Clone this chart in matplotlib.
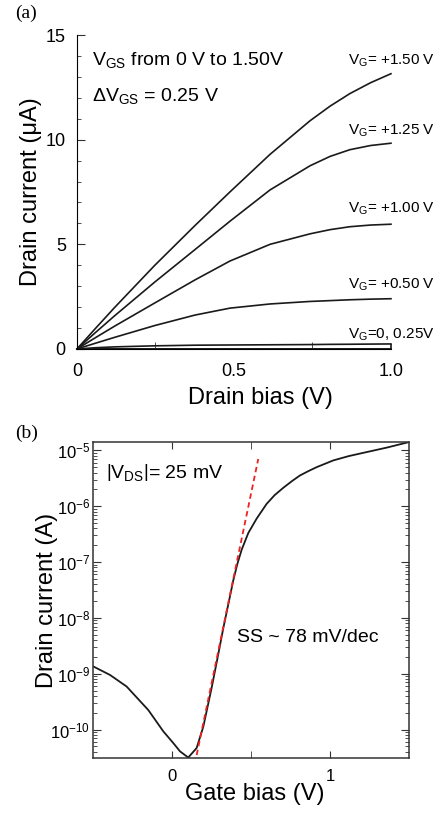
import numpy as np
import matplotlib
matplotlib.use("Agg")
from matplotlib import pyplot as plt
from matplotlib.ticker import MultipleLocator, FixedLocator, LogLocator, NullFormatter

plt.rcParams['font.family'] = ['Liberation Sans', 'DejaVu Sans']
plt.rcParams['mathtext.fontset'] = 'custom'
plt.rcParams['mathtext.rm'] = 'Liberation Sans'
plt.rcParams['mathtext.it'] = 'Liberation Sans:italic'
plt.rcParams['mathtext.bf'] = 'Liberation Sans:bold'

# ---- panel (a): output curves, drain current in uA vs drain bias in V
drain_v = [0.0, 0.06, 0.121, 0.248, 0.376, 0.487, 0.615, 0.742, 0.806, 0.869, 0.935, 1.0]
id_vg150 = [0.0, 1.00, 2.00, 4.00, 5.90, 7.50, 9.30, 10.90, 11.60, 12.20, 12.72, 13.15]
id_vg125 = [0.0, 0.80, 1.60, 3.20, 4.75, 6.10, 7.60, 8.75, 9.20, 9.52, 9.72, 9.83]
id_vg100 = [0.0, 0.55, 1.10, 2.20, 3.30, 4.20, 5.00, 5.50, 5.70, 5.84, 5.92, 5.96]
id_vg050 = [0.0, 0.28, 0.56, 1.12, 1.62, 1.95, 2.15, 2.27, 2.31, 2.35, 2.38, 2.40]
id_vg025 = [0.0, 0.06, 0.10, 0.15, 0.18, 0.19, 0.20, 0.21, 0.22, 0.225, 0.233, 0.24]
id_vg000 = [0.0, 0.005, 0.005, 0.005, 0.005, 0.005, 0.005, 0.005, 0.005, 0.005, 0.005, 0.005]
curve_labels = ["V$_\\mathrm{G}$= +1.50 V", "V$_\\mathrm{G}$= +1.25 V",
                "V$_\\mathrm{G}$= +1.00 V", "V$_\\mathrm{G}$= +0.50 V",
                "V$_\\mathrm{G}$=0, 0.25V"]
label_y = [13.75, 10.4, 6.7, 3.05, 0.7]

# ---- panel (b): transfer curve, drain current in A vs gate bias in V
gate_v = [-0.498, -0.392, -0.287, -0.150, -0.055, 0.008, 0.051, 0.103, 0.156,
          0.198, 0.251, 0.293, 0.325, 0.357, 0.388, 0.414, 0.441, 0.483,
          0.536, 0.599, 0.650, 0.705, 0.760, 0.810, 0.865, 0.916, 1.021,
          1.120, 1.232, 1.360, 1.502]
id_gate = [1.35e-9, 9.5e-10, 5.9e-10, 2.24e-10, 9.3e-11, 5.75e-11, 4.07e-11, 3.16e-11, 4.68e-11,
           1.12e-10, 5.6e-10, 2.24e-9, 6.6e-9, 1.78e-8, 4.7e-8, 9.3e-8, 1.66e-7, 3.31e-7,
           6.0e-7, 1.10e-6, 1.58e-6, 2.14e-6, 2.82e-6, 3.55e-6, 4.27e-6, 5.0e-6, 6.6e-6,
           7.9e-6, 9.3e-6, 1.12e-5, 1.41e-5]
ss_fit_v = [0.156, 0.546]
ss_fit_i = [3.5e-11, 7.0e-6]

fig = plt.figure(figsize=(4.46, 8.14), dpi=100)

# panel (a)
ax1 = fig.add_axes([0.1726, 0.5713, 0.704, 0.3857])
for ys in [id_vg150, id_vg125, id_vg100, id_vg050, id_vg025, id_vg000]:
    ax1.plot(drain_v, ys, color='#1a1a1a', lw=1.2, clip_on=False)
# the low-bias pair closes at the right end
ax1.vlines(drain_v[-1], id_vg000[-1], id_vg025[-1], color='#1a1a1a', lw=1.2, clip_on=False)
ax1.set_xlim(0, 1.0)
ax1.set_ylim(0, 15)
ax1.spines['top'].set_visible(False)
ax1.spines['right'].set_visible(False)
ax1.xaxis.set_major_locator(FixedLocator([0, 0.5, 1.0]))
ax1.xaxis.set_minor_locator(FixedLocator([0.25, 0.75]))
ax1.set_xticklabels(['0', '0.5', '1.0'])
ax1.yaxis.set_major_locator(FixedLocator([0, 5, 10, 15]))
ax1.yaxis.set_minor_locator(MultipleLocator(1))
ax1.set_yticklabels(['0', '5', '10', '15'])
ax1.tick_params(which='both', direction='in', labelsize=13, color='#333333')
ax1.tick_params(axis='x', which='major', length=0, pad=10)
ax1.tick_params(axis='x', which='minor', length=5)
ax1.tick_params(axis='y', which='major', length=6, pad=8)
ax1.tick_params(axis='y', which='minor', length=3)
ax1.set_xlabel("Drain bias (V)", fontsize=17)
ax1.set_ylabel("Drain current (\u03bcA)", fontsize=17)
ax1.xaxis.set_label_coords(0.583, -0.12)
ax1.yaxis.set_label_coords(-0.11, 0.5)
for lab, yy in zip(curve_labels, label_y):
    ax1.text(1.14, yy, lab, fontsize=11, ha='right', va='center', clip_on=False)
ax1.text(0.048, 13.8, "V$_\\mathrm{GS}$ from 0 V to 1.50V", fontsize=14, va='center')
ax1.text(0.048, 12.1, "\u0394V$_\\mathrm{GS}$ = 0.25 V", fontsize=14, va='center')
fig.text(0.034, 0.984, "(a)", fontsize=14, family='Liberation Serif', va='center')

# panel (b)
ax2 = fig.add_axes([0.2085, 0.0688, 0.7085, 0.388])
ax2.semilogy(gate_v, id_gate, color='#1a1a1a', lw=1.3)
ax2.semilogy(ss_fit_v, ss_fit_i, color='#ee2222', lw=1.3, ls=(0, (3, 2)))
ax2.set_xlim(-0.5, 1.5)
ax2.set_ylim(3.1e-11, 1.4e-5)
ax2.xaxis.set_major_locator(FixedLocator([0, 1]))
ax2.xaxis.set_minor_locator(FixedLocator([0.5]))
ax2.set_xticklabels(['0', '1'])
ax2.yaxis.set_major_locator(LogLocator(base=10, numticks=12))
ax2.yaxis.set_minor_locator(LogLocator(base=10, subs=np.arange(2, 10), numticks=12))
ax2.yaxis.set_minor_formatter(NullFormatter())
ax2.tick_params(which='both', direction='in', top=True, right=True, labelsize=12, color='#333333')
ax2.tick_params(axis='x', which='both', length=5, pad=8)
ax2.tick_params(axis='y', which='major', length=6, pad=2)
ax2.tick_params(axis='y', which='minor', length=3)
for sp in ax2.spines.values():
    sp.set_color('#333333')
    sp.set_linewidth(1.1)
ax2.set_xlabel("Gate bias (V)", fontsize=17)
ax2.set_ylabel("Drain current (A)", fontsize=17)
ax2.xaxis.set_label_coords(0.513, -0.08)
ax2.yaxis.set_label_coords(-0.11, 0.5)
ax2.text(0.04, 0.905, r"$\left|\mathrm{V}_{\mathrm{DS}}\right|$= 25 mV", fontsize=14,
         transform=ax2.transAxes, va='center')
ax2.text(0.455, 0.38, "SS ~ 78 mV/dec", fontsize=14, transform=ax2.transAxes, va='center')
fig.text(0.034, 0.468, "(b)", fontsize=14, family='Liberation Serif', va='center')

fig.savefig("out.png", dpi=100)
